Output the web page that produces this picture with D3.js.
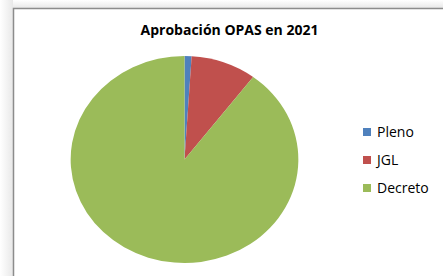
<!DOCTYPE html>
<html>
<head>
<meta charset="utf-8">
<script src="https://cdn.jsdelivr.net/npm/d3@7"></script>
<style>
  body { margin: 0; background: #fff; }
  svg { display: block; }
</style>
</head>
<body>
<svg id="chart"></svg>
<script>
// data (share of approvals, %)
const categories = ["Pleno", "JGL", "Decreto"];
const values = [1, 9.3, 89.7];
const colors = ["#4F81BD", "#C0504D", "#9BBB59"];
const title = "Aprobación OPAS en 2021";

const width = 443,
	height = 276;

const svg = d3.select("#chart").attr("width", width).attr("height", height);

// soft shadow outside the chart frame
const defs = svg.append("defs");
const gradL = defs.append("linearGradient").attr("id", "shadeL");
gradL.append("stop").attr("offset", "0%").attr("stop-color", "#ffffff");
gradL.append("stop").attr("offset", "100%").attr("stop-color", "#e8e8e8");
const gradT = defs
	.append("linearGradient")
	.attr("id", "shadeT")
	.attr("x1", 0).attr("y1", 0).attr("x2", 0).attr("y2", 1);
gradT.append("stop").attr("offset", "0%").attr("stop-color", "#ffffff");
gradT.append("stop").attr("offset", "100%").attr("stop-color", "#e8e8e8");

svg.append("rect").attr("x", 0).attr("y", 0).attr("width", 13).attr("height", height).attr("fill", "url(#shadeL)");
svg.append("rect").attr("x", 13).attr("y", 0).attr("width", width).attr("height", 8).attr("fill", "url(#shadeT)");

// chart frame (right and bottom edges run off the picture)
svg
	.append("rect")
	.attr("x", 13.5)
	.attr("y", 8.5)
	.attr("width", width)
	.attr("height", height)
	.attr("fill", "#fff")
	.attr("stroke", "#8c8c8c")
	.attr("stroke-width", 1.5);

// title
svg
	.append("text")
	.attr("x", 229.5)
	.attr("y", 35)
	.attr("text-anchor", "middle")
	.style("font-family", "'Open Sans', 'Liberation Sans', sans-serif")
	.style("font-size", "14px")
	.style("font-weight", "bold")
	.attr("fill", "#000")
	.text(title);

// pie (the picture is stretched a little horizontally)
const cx = 184.5,
	cy = 159.5,
	radius = 103.5,
	stretchX = 1.1;

const pie = d3.pie().sort(null).value((d) => d.value);
const arc = d3.arc().innerRadius(0).outerRadius(radius);

const data = categories.map((c, i) => ({ name: c, value: values[i], color: colors[i] }));

svg
	.append("g")
	.attr("transform", `translate(${cx},${cy}) scale(${stretchX},1)`)
	.selectAll("path")
	.data(pie(data))
	.join("path")
	.attr("d", arc)
	.attr("fill", (d) => d.data.color);

// legend
const legendY = d3.scalePoint().domain(categories).range([132, 188]);

const legend = svg
	.append("g")
	.selectAll("g")
	.data(data)
	.join("g")
	.attr("transform", (d) => `translate(363,${legendY(d.name)})`);

legend
	.append("rect")
	.attr("x", 0)
	.attr("y", -4)
	.attr("width", 8)
	.attr("height", 8)
	.attr("fill", (d) => d.color);

legend
	.append("text")
	.attr("x", 14)
	.attr("y", 5)
	.style("font-family", "'Open Sans', 'Liberation Sans', sans-serif")
	.style("font-size", "14px")
	.attr("fill", "#000")
	.text((d) => d.name);
</script>
</body>
</html>
